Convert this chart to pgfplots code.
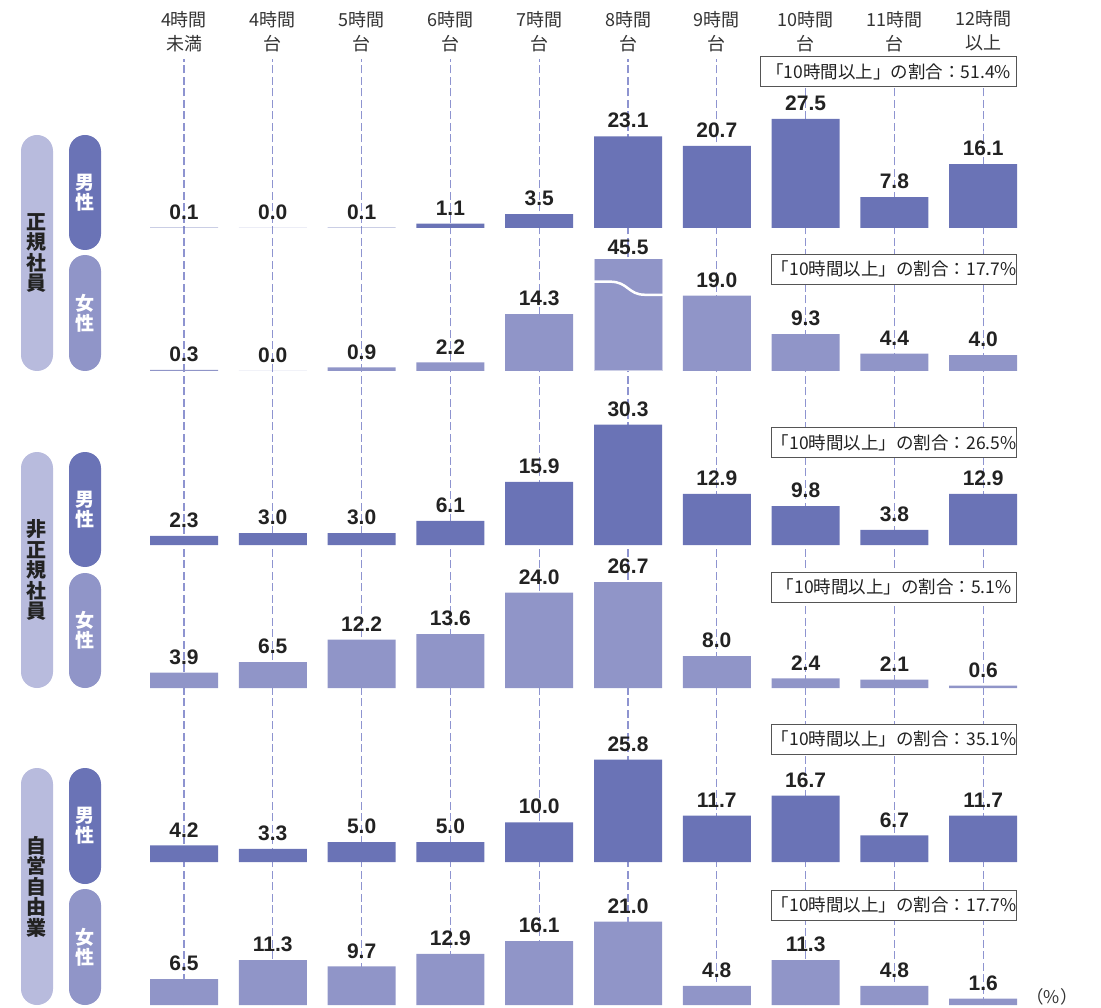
\documentclass[border=0pt]{standalone}
\usepackage{pgfplots}
\pgfplotsset{compat=1.18}
\usepackage{fontspec}
\setmainfont{Liberation Sans}
\newfontfamily\jp{Noto Sans CJK JP}

\definecolor{male}{HTML}{6A73B6}
\definecolor{female}{HTML}{9095C8}
\definecolor{grouppill}{HTML}{B8BBDD}
\definecolor{gridcol}{HTML}{8E94D0}
\definecolor{ink}{HTML}{222222}
\definecolor{hdr}{HTML}{333333}
\definecolor{boxline}{HTML}{555555}

\newcommand\lab{\fontsize{21}{24}\selectfont\bfseries}
\newcommand\hdrfont{\jp\fontsize{18}{24}\selectfont}
\newcommand\boxfont{\jp\fontsize{17.5}{20}\selectfont}

\pgfplotsset{
  rowaxis/.style={
    anchor=south west, x=88.8pt, y=3.97pt,
    xmin=-0.5, xmax=9.5, ymin=0, ymax=35,
    hide axis, clip=false,
    ybar, bar width=68pt, bar shift=0pt,
  },
  vals/.style={
    fill=#1, draw=none, bar shift=0pt,
    nodes near coords={\pgfmathprintnumber[fixed,fixed zerofill,precision=1,assume math mode=true]{\pgfplotspointmeta}},
    every node near coord/.append style={font=\lab, text=ink, anchor=south, inner sep=0pt, yshift=8pt},
  },
}
\tikzset{
  ratiobox/.style={
    draw=boxline, line width=0.9pt, fill=white, anchor=east,
    font=\boxfont, text=ink, minimum width=245pt, minimum height=30pt, inner sep=0pt,
  },
  grp/.style={align=center, inner sep=0pt, text=ink, font=\jp\fontsize{20}{20.5}\selectfont\bfseries},
  sex/.style={align=center, inner sep=0pt, text=white, font=\jp\fontsize{19}{20}\selectfont\bfseries},
}

\begin{document}
\begin{tikzpicture}
\useasboundingbox (0pt,0pt) rectangle (1101pt,-1008pt);

% column headers and dashed guide lines
\begin{axis}[
  anchor=south west, at={(139.6pt,-1005pt)},
  x=88.8pt, y=946pt, xmin=-0.5, xmax=9.5, ymin=0, ymax=1,
  axis line style={draw=none}, tick style={draw=none},
  ytick=\empty, xtick={0,...,9}, xticklabel pos=upper,
  xticklabels={{4時間\\未満},{4時間\\台},{5時間\\台},{6時間\\台},{7時間\\台},
               {8時間\\台},{9時間\\台},{10時間\\台},{11時間\\台},{12時間\\以上}},
  xticklabel style={align=center, font=\hdrfont, text=hdr, yshift=4pt},
  xmajorgrids,
  major grid style={draw=gridcol, dash pattern=on 8pt off 3.5pt, line width=1.1pt},
]
\end{axis}

% row labels
\fill[grouppill, rounded corners=16pt] (21pt,-135pt) rectangle (53pt,-371pt);
\fill[male, rounded corners=16pt] (69pt,-135pt) rectangle (101pt,-250pt);
\fill[female, rounded corners=16pt] (69pt,-255pt) rectangle (101pt,-371pt);
\fill[grouppill, rounded corners=16pt] (21pt,-452pt) rectangle (53pt,-688pt);
\fill[male, rounded corners=16pt] (69pt,-452pt) rectangle (101pt,-567pt);
\fill[female, rounded corners=16pt] (69pt,-573pt) rectangle (101pt,-688pt);
\fill[grouppill, rounded corners=16pt] (21pt,-768pt) rectangle (53pt,-1005pt);
\fill[male, rounded corners=16pt] (69pt,-768pt) rectangle (101pt,-884pt);
\fill[female, rounded corners=16pt] (69pt,-889pt) rectangle (101pt,-1005pt);

\node[grp] at (37pt,-253pt) {正\\規\\社\\員};
\node[sex] at (85pt,-192.5pt) {男\\性};
\node[sex] at (85pt,-313pt) {女\\性};
\node[grp] at (37pt,-570pt) {非\\正\\規\\社\\員};
\node[sex] at (85pt,-509.5pt) {男\\性};
\node[sex] at (85pt,-630.5pt) {女\\性};
\node[grp] at (37pt,-886.5pt) {自\\営\\自\\由\\業};
\node[sex] at (85pt,-826pt) {男\\性};
\node[sex] at (85pt,-947pt) {女\\性};

% 正規社員 男性
\begin{axis}[rowaxis, at={(139.6pt,-228pt)}]
\addplot[vals=male] coordinates {(0,0.1) (1,0.0) (2,0.1) (3,1.1) (4,3.5) (5,23.1) (6,20.7) (7,27.5) (8,7.8) (9,16.1)};
\node[ratiobox, minimum width=256pt] at (axis cs:9.383,39.4) {「10時間以上」の割合：51.4\%};
\end{axis}

% 正規社員 女性 (8時間台 bar broken at the top of the row)
\begin{axis}[rowaxis, at={(139.6pt,-371pt)}, ymax=28.2, clip=true, clip mode=individual]
\addplot[vals=female] coordinates {(0,0.3) (1,0.0) (2,0.9) (3,2.2) (4,14.3) (6,19.0) (7,9.3) (8,4.4) (9,4.0)};
\addplot[fill=female, draw=white!55!female, line width=1pt, bar shift=0pt] coordinates {(5,45.5)};
\draw[white, line width=2.5pt] (axis cs:4.59,22.5) -- (axis cs:4.80,22.5)
  .. controls (axis cs:5.0,22.5) and (axis cs:5.0,19.2) .. (axis cs:5.19,19.2) -- (axis cs:5.40,19.2);
\node[font=\lab, text=ink, anchor=south, inner sep=0pt, yshift=4pt] at (axis cs:5,28.2) {45.5};
\node[ratiobox] at (axis cs:9.383,25.7) {「10時間以上」の割合：17.7\%};
\end{axis}

% 非正規社員 男性
\begin{axis}[rowaxis, at={(139.6pt,-545pt)}]
\addplot[vals=male] coordinates {(0,2.3) (1,3.0) (2,3.0) (3,6.1) (4,15.9) (5,30.3) (6,12.9) (7,9.8) (8,3.8) (9,12.9)};
\node[ratiobox] at (axis cs:9.383,25.8) {「10時間以上」の割合：26.5\%};
\end{axis}

% 非正規社員 女性
\begin{axis}[rowaxis, at={(139.6pt,-688pt)}]
\addplot[vals=female] coordinates {(0,3.9) (1,6.5) (2,12.2) (3,13.6) (4,24.0) (5,26.7) (6,8.0) (7,2.4) (8,2.1) (9,0.6)};
\node[ratiobox] at (axis cs:9.383,25.4) {「10時間以上」の割合：5.1\%};
\end{axis}

% 自営自由業 男性
\begin{axis}[rowaxis, at={(139.6pt,-862pt)}]
\addplot[vals=male] coordinates {(0,4.2) (1,3.3) (2,5.0) (3,5.0) (4,10.0) (5,25.8) (6,11.7) (7,16.7) (8,6.7) (9,11.7)};
\node[ratiobox] at (axis cs:9.383,30.9) {「10時間以上」の割合：35.1\%};
\end{axis}

% 自営自由業 女性
\begin{axis}[rowaxis, at={(139.6pt,-1005pt)}]
\addplot[vals=female] coordinates {(0,6.5) (1,11.3) (2,9.7) (3,12.9) (4,16.1) (5,21.0) (6,4.8) (7,11.3) (8,4.8) (9,1.6)};
\node[ratiobox] at (axis cs:9.383,25.2) {「10時間以上」の割合：17.7\%};
\end{axis}

\node[font=\boxfont, text=hdr, inner sep=0pt] at (1052pt,-997pt) {（\%）};
\end{tikzpicture}
\end{document}
